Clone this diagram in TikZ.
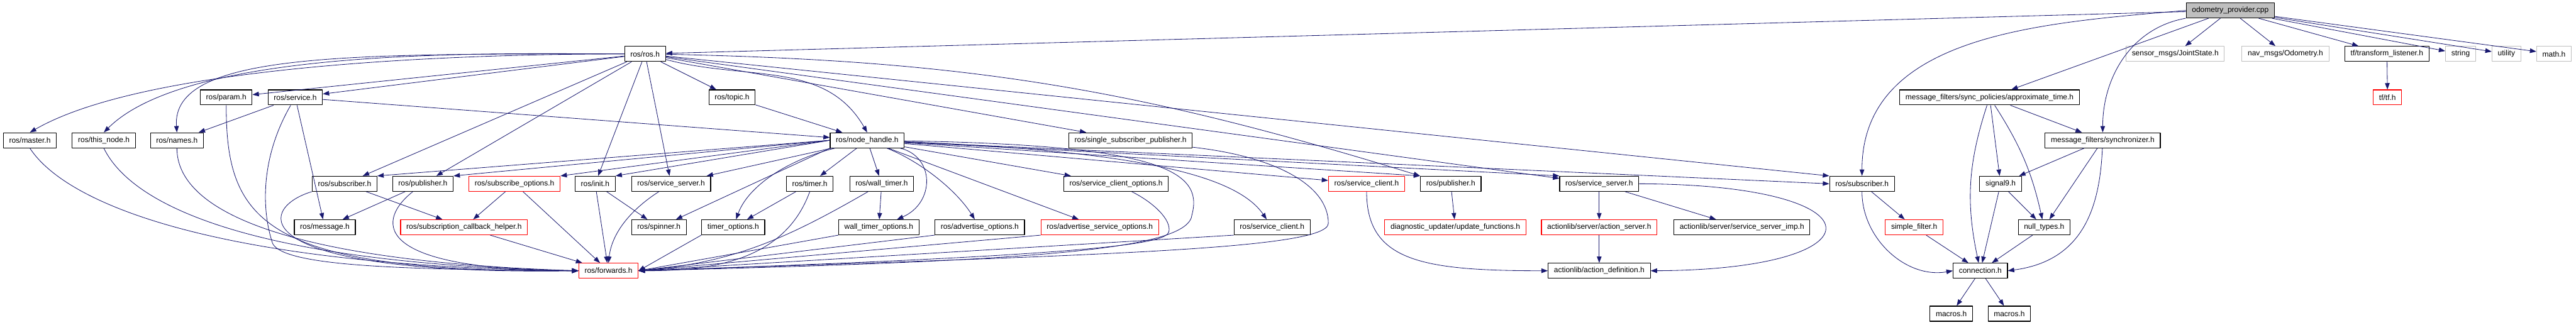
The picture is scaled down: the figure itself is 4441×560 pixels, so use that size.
\documentclass[tikz,border=0pt]{standalone}
\usepackage{fontspec}
\setmainfont{Liberation Sans}
\usetikzlibrary{arrows.meta}
\definecolor{edgeblue}{RGB}{25,25,112}
\definecolor{sysgray}{RGB}{191,191,191}
\tikzset{
  hfile/.style={draw=black, line width=0.6pt, fill=white, minimum height=13pt, inner xsep=5pt, inner ysep=0pt, font=\fontsize{6.5}{8}\selectfont},
  hmiss/.style={hfile, draw=red},
  hsys/.style={hfile, draw=sysgray},
  hmain/.style={hfile, fill=sysgray},
  inc/.style={->, draw=edgeblue, line width=0.45pt}
}
\begin{document}
\begin{tikzpicture}[x=0.5pt, y=0.5pt, >={Triangle[length=5.5pt, width=4pt]}, line join=round]
\useasboundingbox (0,0) rectangle (4441,560);
% the source file and what it includes directly
\node[hmain] (op) at (3845,542) {odometry\_provider.cpp};
\node[hfile] (rosh) at (1112,467) {ros/ros.h};
\node[hsys] (jointstate) at (3750,467) {sensor\_msgs/JointState.h};
\node[hsys] (odometry) at (3940,467) {nav\_msgs/Odometry.h};
\node[hfile] (tflistener) at (4115,467) {tf/transform\_listener.h};
\node[hsys] (string) at (4242,467) {string};
\node[hsys] (utility) at (4321,467) {utility};
\node[hsys] (math) at (4403,467) {math.h};
% second level
\node[hfile] (param) at (390,392) {ros/param.h};
\node[hfile] (service) at (509,392) {ros/service.h};
\node[hfile] (topic) at (1262,392) {ros/topic.h};
\node[hfile] (approx) at (3430,392) {message\_filters/sync\_policies/approximate\_time.h};
\node[hmiss] (tf) at (4116,392) {tf/tf.h};
\node[hfile] (master) at (51.5,318) {ros/master.h};
\node[hfile] (thisnode) at (179,318) {ros/this\_node.h};
\node[hfile] (names) at (305,318) {ros/names.h};
\node[hfile] (nodehandle) at (1495,318) {ros/node\_handle.h};
\node[hfile] (ssp) at (1949,318) {ros/single\_subscriber\_publisher.h};
\node[hfile] (sync) at (3625,318) {message\_filters/synchronizer.h};
% node handle level
\node[hfile] (subscriber) at (594,243) {ros/subscriber.h};
\node[hfile] (publisher) at (729,243) {ros/publisher.h};
\node[hmiss] (subopts) at (887,243) {ros/subscribe\_options.h};
\node[hfile] (init) at (1026,243) {ros/init.h};
\node[hfile] (srvserver) at (1157,243) {ros/service\_server.h};
\node[hfile] (timer) at (1396,243) {ros/timer.h};
\node[hfile] (walltimer) at (1520,243) {ros/wall\_timer.h};
\node[hfile] (scopts) at (1924,243) {ros/service\_client\_options.h};
\node[hmiss] (srvclientr) at (2356,243) {ros/service\_client.h};
\node[hfile] (publisher2) at (2501,243) {ros/publisher.h};
\node[hfile] (srvserver2) at (2757,243) {ros/service\_server.h};
\node[hfile] (mfsub) at (3210,243) {ros/subscriber.h};
\node[hfile] (signal) at (3449,243) {signal9.h};
\node[hfile] (message) at (560,168) {ros/message.h};
\node[hmiss] (scbhelper) at (800,168) {ros/subscription\_callback\_helper.h};
\node[hfile] (spinner) at (1136,168) {ros/spinner.h};
\node[hfile] (timeropts) at (1264,168) {timer\_options.h};
\node[hfile] (walltimeropts) at (1515,168) {wall\_timer\_options.h};
\node[hfile] (advopts) at (1689,168) {ros/advertise\_options.h};
\node[hmiss] (advsrvopts) at (1896,168) {ros/advertise\_service\_options.h};
\node[hfile] (srvclient) at (2193,168) {ros/service\_client.h};
\node[hmiss] (updfunc) at (2509,168) {diagnostic\_updater/update\_functions.h};
\node[hmiss] (actserver) at (2757,168) {actionlib/server/action\_server.h};
\node[hfile] (ssimp) at (3003,168) {actionlib/server/service\_server\_imp.h};
\node[hmiss] (simplefilter) at (3300,168) {simple\_filter.h};
\node[hfile] (nulltypes) at (3524,168) {null\_types.h};
% bottom
\node[hmiss] (forwards) at (1049,93) {ros/forwards.h};
\node[hfile] (actdef) at (2757,93) {actionlib/action\_definition.h};
\node[hfile] (connection) at (3414,93) {connection.h};
\node[hfile] (macrosa) at (3364,19) {macros.h};
\node[hfile] (macrosb) at (3464,19) {macros.h};

\foreach \a/\b in {op/rosh, op/approx, op/jointstate, op/odometry, op/tflistener, op/string, op/utility, op/math, tflistener/tf,
  rosh/param, rosh/service, rosh/topic, rosh/subscriber, rosh/publisher, rosh/init, rosh/srvserver, rosh/ssp, rosh/srvserver2,
  service/names, service/message, service/nodehandle, topic/nodehandle,
  nodehandle/srvserver, nodehandle/timer,
  nodehandle/walltimer, nodehandle/advsrvopts, nodehandle/scopts, nodehandle/srvclientr,
  subscriber/scbhelper, publisher/message, subopts/scbhelper, subopts/forwards, scbhelper/forwards, init/forwards, init/spinner,
  timer/timeropts, walltimer/walltimeropts, publisher2/updfunc, srvserver2/actserver, srvserver2/ssimp, actserver/actdef,
  mfsub/simplefilter, simplefilter/connection, approx/signal, approx/sync, sync/signal, sync/nulltypes, signal/nulltypes,
  signal/connection, nulltypes/connection, connection/macrosa, connection/macrosb}
  \draw[inc] (\a) -- (\b);

\draw[inc] (op.west) to[out=185, in=90] (mfsub.north);
\draw[inc] (op) to[out=190, in=90] (sync.north);
\draw[inc] (rosh.west) to[out=180, in=30, looseness=0.6] (master.north);
\draw[inc] (rosh.west) to[out=180, in=45, looseness=0.6] (thisnode.north);
\draw[inc] (rosh.west) .. controls (600,467) and (295,470) .. (names.north);
\draw[inc] (rosh) to[out=-15, in=120] (nodehandle.north);
\draw[inc] (rosh) to[bend left=8] (publisher2.north west);
\draw[inc] (rosh) -- (mfsub.north west);
\draw[inc] (nodehandle.west) -- (subscriber.north east);
\draw[inc] (nodehandle.west) -- (publisher.north east);
\draw[inc] (nodehandle.west) -- (subopts.north east);
\draw[inc] (nodehandle.west) -- (init.north east);
\draw[inc] (nodehandle) -- (publisher2.north west);
\draw[inc] (nodehandle) -- (srvserver2.north west);
\draw[inc] (nodehandle) -- (mfsub.west);
\draw[inc] (nodehandle.south west) -- (spinner);
\draw[inc] (nodehandle) .. controls (1360,285) and (1290,240) .. (timeropts);
\draw[inc] (nodehandle) .. controls (1612,290) and (1612,210) .. (walltimeropts);
\draw[inc] (nodehandle) .. controls (1590,280) and (1650,230) .. (advopts);
\draw[inc] (nodehandle) .. controls (1950,300) and (2130,260) .. (srvclient);
% into ros/forwards.h
\draw[inc] (master.south) .. controls (120,200) and (400,100) .. (forwards.west);
\draw[inc] (thisnode.south) .. controls (230,200) and (450,105) .. (forwards.west);
\draw[inc] (names.south) .. controls (305,200) and (480,110) .. (forwards.west);
\draw[inc] (param.south) .. controls (390,180) and (450,90) .. (forwards.west);
\draw[inc] (service) .. controls (450,290) and (450,200) .. (470,140) .. controls (490,100) and (700,95) .. (forwards.west);
\draw[inc] (subscriber.south west) .. controls (440,200) and (420,85) .. (forwards.west);
\draw[inc] (publisher) .. controls (655,185) and (625,95) .. (forwards.west);
\draw[inc] (srvserver) .. controls (1090,200) and (1055,160) .. (forwards.north);
\draw[inc] (timer.south) to[out=-110, in=0] (forwards.east);
\draw[inc] (walltimer) to[out=-150, in=5] (forwards.east);
\draw[inc] (timeropts.south west) -- (forwards.east);
\draw[inc] (walltimeropts.south west) -- (forwards.east);
\draw[inc] (advopts.south west) -- (forwards.east);
\draw[inc] (advsrvopts.south west) -- (forwards.east);
\draw[inc] (srvclient.south west) -- (forwards.east);
\draw[inc] (nodehandle) .. controls (2000,310) and (2075,265) .. (2055,190) .. controls (2050,130) and (1800,110) .. (forwards.east);
\draw[inc] (ssp) .. controls (2200,290) and (2290,240) .. (2290,175) .. controls (2290,130) and (1900,120) .. (forwards.east);
\draw[inc] (scopts) .. controls (1990,210) and (2020,180) .. (2015,160) .. controls (2010,140) and (1900,120) .. (forwards.east);
% right half
\draw[inc] (srvclientr) .. controls (2356,110) and (2450,93) .. (actdef.west);
\draw[inc] (srvserver2.east) .. controls (3250,242) and (3250,95) .. (actdef.east);
\draw[inc] (mfsub.south) to[out=-90, in=190] (connection.west);
\draw[inc] (sync) .. controls (3620,200) and (3590,110) .. (connection.east);
\draw[inc] (approx) to[bend right=15] (connection);
\draw[inc] (approx) to[bend left=10] (nulltypes);
\end{tikzpicture}
\end{document}
